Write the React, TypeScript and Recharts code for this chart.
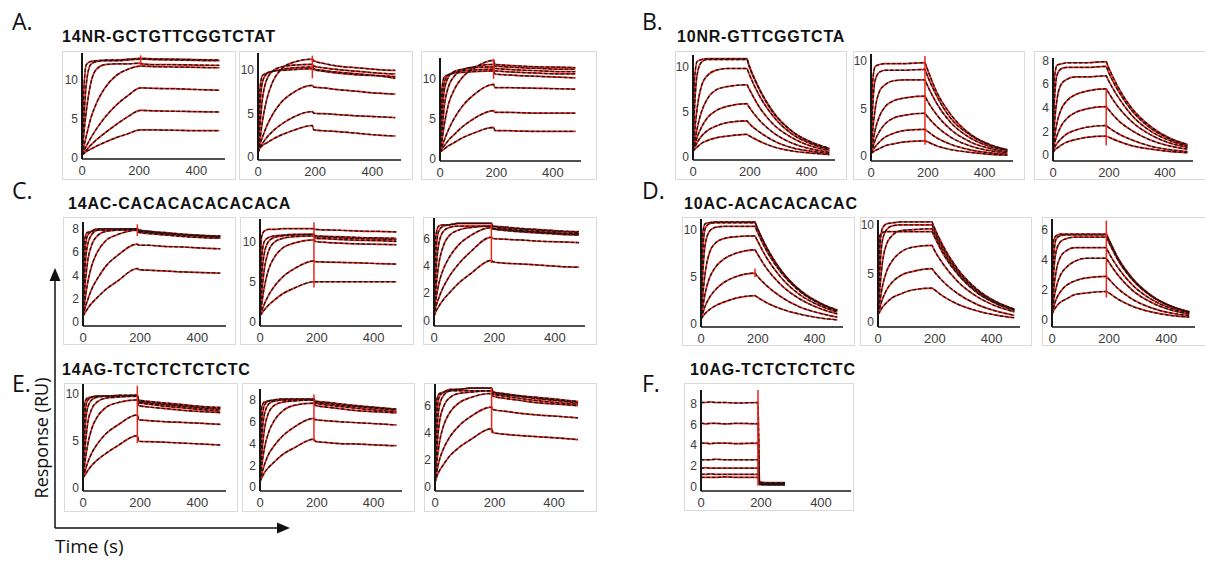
import React from 'react';
import { LineChart, Line, XAxis, YAxis, ReferenceLine } from 'recharts';

// sample times (s); A1 switches to dissociation a bit later than the rest
const TIME = [0, 5, 15, 30, 50, 80, 120, 190, 195, 230, 280, 350, 420, 480];
const TIME_A1 = [0, 5, 15, 30, 50, 80, 120, 160, 205, 210, 250, 320, 400, 480];
const X_TICKS = [0, 200, 400];

// A. 14NR-GCTGTTCGGTCTAT
const A1 = [
  [0.4, 7.5, 12.0, 12.4, 12.5, 12.6, 12.6, 12.7, 12.8, 12.8, 12.75, 12.7, 12.65, 12.6],
  [0.4, 4.0, 9.5, 12.0, 12.4, 12.5, 12.5, 12.6, 12.7, 12.7, 12.65, 12.6, 12.55, 12.5],
  [0.4, 2.5, 6.0, 9.5, 11.4, 12.0, 12.1, 12.1, 12.2, 12.1, 12.0, 12.0, 11.95, 11.9],
  [0.4, 1.2, 2.8, 5.0, 7.0, 9.0, 10.6, 11.4, 11.8, 11.8, 11.75, 11.7, 11.65, 11.6],
  [0.4, 0.8, 1.5, 2.5, 3.7, 5.2, 6.8, 8.0, 9.0, 9.0, 8.95, 8.9, 8.8, 8.7],
  [0.4, 0.6, 1.0, 1.6, 2.3, 3.2, 4.3, 5.3, 6.1, 6.1, 6.05, 6.0, 5.95, 5.9],
  [0.4, 0.5, 0.8, 1.1, 1.5, 2.0, 2.6, 3.1, 3.6, 3.6, 3.6, 3.55, 3.5, 3.5],
];
const A2 = [
  [0.5, 7.0, 9.3, 9.6, 9.8, 9.9, 10.0, 10.1, 10.0, 9.8, 9.6, 9.4, 9.3, 9.2],
  [0.5, 4.5, 8.5, 9.5, 9.8, 10.0, 10.2, 10.3, 10.1, 9.9, 9.7, 9.5, 9.3, 9.0],
  [0.5, 2.8, 6.5, 8.8, 9.8, 10.3, 10.5, 10.6, 10.4, 10.2, 10.0, 9.8, 9.6, 9.5],
  [0.5, 1.5, 4.0, 6.5, 8.5, 10.0, 10.8, 11.2, 11.0, 10.7, 10.4, 10.2, 10.0, 9.9],
  [0.5, 1.2, 2.2, 3.5, 4.8, 6.2, 7.3, 8.2, 8.0, 7.9, 7.7, 7.5, 7.3, 7.2],
  [0.5, 1.0, 1.5, 2.2, 2.9, 3.7, 4.5, 5.2, 5.0, 4.95, 4.85, 4.7, 4.6, 4.5],
  [0.5, 0.9, 1.3, 1.6, 2.0, 2.5, 3.0, 3.6, 3.1, 3.0, 2.9, 2.7, 2.5, 2.4],
];
const A3 = [
  [0.8, 8.0, 10.2, 10.5, 10.7, 10.8, 10.9, 11.0, 10.6, 10.5, 10.4, 10.3, 10.2, 10.1],
  [0.8, 6.0, 9.5, 10.5, 10.8, 11.0, 11.1, 11.2, 11.0, 10.9, 10.8, 10.7, 10.6, 10.6],
  [0.8, 4.0, 8.5, 10.2, 10.9, 11.2, 11.4, 11.5, 11.3, 11.2, 11.1, 11.0, 10.9, 10.9],
  [0.8, 2.5, 6.5, 9.0, 10.3, 11.1, 11.5, 11.8, 11.6, 11.5, 11.4, 11.3, 11.2, 11.2],
  [0.8, 1.8, 4.2, 6.8, 8.6, 10.2, 11.3, 12.3, 11.8, 11.7, 11.6, 11.5, 11.45, 11.4],
  [0.8, 1.3, 2.3, 3.6, 5.0, 6.6, 8.0, 9.3, 8.9, 8.9, 8.85, 8.8, 8.75, 8.7],
  [0.8, 1.1, 1.6, 2.3, 3.0, 4.0, 5.0, 6.0, 5.8, 5.8, 5.75, 5.7, 5.7, 5.7],
  [0.8, 0.95, 1.2, 1.6, 2.0, 2.6, 3.2, 3.9, 3.5, 3.5, 3.45, 3.4, 3.4, 3.4],
];

// B. 10NR-GTTCGGTCTA
const B1 = [
  [0.5, 8.5, 10.6, 10.8, 10.9, 10.9, 10.9, 10.9, 10.4, 7.8, 5.1, 2.8, 1.6, 0.95],
  [0.5, 5.0, 9.2, 10.5, 10.8, 10.8, 10.8, 10.8, 10.3, 7.7, 5.0, 2.8, 1.55, 0.9],
  [0.6, 2.5, 5.5, 7.9, 9.0, 9.6, 9.8, 9.8, 9.4, 7.0, 4.6, 2.5, 1.4, 0.8],
  [0.6, 1.5, 3.2, 5.0, 6.4, 7.4, 7.8, 8.0, 7.7, 5.7, 3.7, 2.1, 1.15, 0.7],
  [0.6, 1.2, 2.2, 3.3, 4.3, 5.1, 5.6, 5.9, 5.65, 4.2, 2.75, 1.5, 0.85, 0.5],
  [0.6, 1.0, 1.6, 2.3, 2.9, 3.4, 3.8, 4.0, 3.8, 2.85, 1.85, 1.0, 0.6, 0.35],
  [0.6, 0.8, 1.1, 1.5, 1.8, 2.1, 2.3, 2.5, 2.4, 1.8, 1.15, 0.65, 0.4, 0.25],
];
const B2 = [
  [0.3, 7.5, 9.4, 9.6, 9.7, 9.7, 9.7, 9.8, 9.4, 6.8, 4.4, 2.3, 1.2, 0.7],
  [0.3, 4.5, 8.0, 8.8, 9.0, 9.0, 9.0, 9.1, 8.7, 6.4, 4.0, 2.2, 1.15, 0.65],
  [0.3, 2.3, 5.0, 6.8, 7.5, 7.9, 8.0, 8.0, 7.65, 5.6, 3.55, 1.9, 1.0, 0.6],
  [0.3, 1.2, 2.8, 4.2, 5.2, 5.8, 6.1, 6.3, 6.0, 4.4, 2.8, 1.5, 0.8, 0.45],
  [0.3, 0.8, 1.7, 2.6, 3.4, 4.0, 4.3, 4.5, 4.3, 3.15, 2.0, 1.07, 0.57, 0.35],
  [0.3, 0.6, 1.0, 1.5, 2.0, 2.4, 2.7, 2.8, 2.7, 1.95, 1.25, 0.66, 0.35, 0.2],
  [0.3, 0.4, 0.6, 0.8, 1.1, 1.3, 1.5, 1.6, 1.55, 1.1, 0.7, 0.4, 0.2, 0.12],
];
const B3 = [
  [0.2, 6.5, 7.6, 7.7, 7.8, 7.8, 7.8, 7.9, 7.6, 5.85, 4.0, 2.4, 1.4, 0.9],
  [0.2, 4.5, 6.8, 7.3, 7.4, 7.4, 7.4, 7.5, 7.2, 5.55, 3.8, 2.25, 1.35, 0.85],
  [0.2, 2.5, 4.8, 6.0, 6.4, 6.6, 6.6, 6.7, 6.45, 5.0, 3.4, 2.0, 1.2, 0.75],
  [0.2, 1.4, 2.8, 3.9, 4.6, 5.1, 5.4, 5.6, 5.4, 4.15, 2.85, 1.7, 1.0, 0.65],
  [0.2, 0.9, 1.7, 2.5, 3.1, 3.6, 3.9, 4.1, 3.95, 3.0, 2.1, 1.25, 0.75, 0.5],
  [0.2, 0.6, 1.0, 1.4, 1.8, 2.1, 2.35, 2.5, 2.4, 1.85, 1.3, 0.75, 0.45, 0.3],
  [0.2, 0.4, 0.6, 0.85, 1.1, 1.3, 1.5, 1.6, 1.55, 1.2, 0.8, 0.5, 0.3, 0.2],
];

// C. 14AC-CACACACACACACA
const C1 = [
  [0.5, 7.0, 7.7, 7.8, 7.9, 7.9, 7.9, 7.9, 7.8, 7.7, 7.6, 7.5, 7.4, 7.35],
  [0.5, 5.5, 7.4, 7.8, 8.0, 8.0, 8.0, 8.0, 7.9, 7.8, 7.7, 7.55, 7.45, 7.4],
  [0.5, 3.8, 6.5, 7.5, 7.9, 8.0, 8.0, 8.0, 7.9, 7.8, 7.65, 7.5, 7.4, 7.3],
  [0.5, 2.5, 5.0, 6.6, 7.4, 7.8, 7.9, 8.0, 7.8, 7.7, 7.6, 7.45, 7.35, 7.25],
  [0.5, 1.5, 3.2, 4.8, 6.0, 7.0, 7.5, 7.9, 7.7, 7.6, 7.5, 7.35, 7.25, 7.2],
  [0.5, 1.0, 1.8, 2.8, 3.7, 4.8, 5.7, 6.7, 6.6, 6.6, 6.5, 6.45, 6.35, 6.3],
  [0.5, 0.7, 1.1, 1.6, 2.1, 2.8, 3.5, 4.6, 4.5, 4.45, 4.4, 4.3, 4.25, 4.2],
];
const C2 = [
  [0.8, 10.5, 11.3, 11.5, 11.5, 11.6, 11.6, 11.6, 11.5, 11.45, 11.4, 11.3, 11.25, 11.2],
  [0.8, 7.5, 10.0, 10.5, 10.7, 10.8, 10.9, 10.9, 10.7, 10.65, 10.6, 10.5, 10.45, 10.4],
  [0.8, 5.0, 8.5, 10.0, 10.5, 10.7, 10.8, 10.9, 10.6, 10.55, 10.45, 10.35, 10.3, 10.2],
  [0.8, 3.2, 6.5, 8.8, 9.9, 10.4, 10.6, 10.7, 10.4, 10.35, 10.25, 10.15, 10.1, 10.0],
  [0.8, 2.0, 4.3, 6.5, 8.0, 9.2, 9.8, 10.2, 10.0, 9.9, 9.8, 9.7, 9.65, 9.6],
  [0.8, 1.3, 2.2, 3.3, 4.4, 5.6, 6.6, 7.6, 7.5, 7.45, 7.4, 7.35, 7.25, 7.2],
  [0.8, 1.0, 1.5, 2.1, 2.7, 3.5, 4.2, 5.0, 5.0, 5.0, 5.0, 5.0, 5.0, 5.0],
];
const C3 = [
  [0.3, 6.0, 6.9, 7.0, 7.0, 7.1, 7.1, 7.1, 6.9, 6.85, 6.75, 6.65, 6.55, 6.5],
  [0.3, 4.5, 6.5, 6.9, 7.0, 7.1, 7.1, 7.1, 6.9, 6.8, 6.7, 6.6, 6.5, 6.45],
  [0.3, 3.0, 5.5, 6.5, 6.8, 6.9, 6.9, 6.9, 6.75, 6.7, 6.6, 6.5, 6.4, 6.35],
  [0.3, 2.0, 4.0, 5.4, 6.2, 6.6, 6.8, 6.9, 6.7, 6.65, 6.55, 6.45, 6.35, 6.3],
  [0.3, 1.3, 2.6, 3.7, 4.6, 5.5, 6.2, 6.8, 6.7, 6.6, 6.5, 6.4, 6.3, 6.25],
  [0.3, 0.9, 1.6, 2.4, 3.2, 4.1, 5.0, 6.1, 6.0, 5.95, 5.9, 5.8, 5.75, 5.7],
  [0.3, 0.6, 1.0, 1.5, 2.0, 2.7, 3.4, 4.4, 4.3, 4.2, 4.15, 4.05, 3.95, 3.9],
];

// D. 10AC-ACACACACAC
const D1 = [
  [0.5, 9.5, 10.7, 10.8, 10.9, 10.9, 10.9, 10.9, 10.5, 8.25, 5.8, 3.55, 2.2, 1.45],
  [0.5, 7.0, 10.2, 10.7, 10.8, 10.8, 10.8, 10.8, 10.45, 8.15, 5.75, 3.5, 2.15, 1.4],
  [0.5, 4.5, 8.5, 9.9, 10.3, 10.4, 10.4, 10.4, 10.05, 7.85, 5.55, 3.4, 2.1, 1.35],
  [0.5, 2.5, 5.5, 7.6, 8.6, 9.1, 9.3, 9.4, 9.1, 7.1, 5.0, 3.05, 1.9, 1.25],
  [0.5, 1.5, 3.3, 4.9, 6.0, 6.9, 7.5, 7.9, 7.65, 5.95, 4.2, 2.6, 1.6, 1.05],
  [0.5, 1.0, 1.9, 2.8, 3.6, 4.4, 5.0, 5.4, 5.2, 4.1, 2.9, 1.75, 1.1, 0.7],
  [0.5, 0.7, 1.1, 1.5, 1.9, 2.3, 2.7, 3.0, 2.9, 2.25, 1.6, 1.0, 0.6, 0.4],
];
const D2 = [
  [0.8, 8.8, 9.2, 9.3, 9.3, 9.3, 9.3, 9.3, 9.0, 7.0, 4.95, 3.0, 1.85, 1.2],
  [0.8, 7.0, 9.6, 10.1, 10.2, 10.3, 10.3, 10.3, 9.95, 7.8, 5.5, 3.35, 2.05, 1.35],
  [0.8, 4.5, 8.3, 9.5, 9.9, 10.0, 10.0, 10.0, 9.65, 7.55, 5.3, 3.25, 2.0, 1.3],
  [0.8, 2.8, 6.0, 8.0, 8.9, 9.4, 9.5, 9.6, 9.3, 7.25, 5.1, 3.1, 1.9, 1.25],
  [0.8, 1.8, 3.6, 5.2, 6.3, 7.2, 7.7, 7.9, 7.6, 5.95, 4.2, 2.6, 1.6, 1.05],
  [0.8, 1.3, 2.3, 3.3, 4.1, 4.8, 5.2, 5.5, 5.3, 4.15, 2.95, 1.8, 1.1, 0.7],
  [0.8, 1.0, 1.5, 2.0, 2.5, 2.9, 3.3, 3.5, 3.4, 2.65, 1.85, 1.15, 0.7, 0.45],
];
const D3 = [
  [0.4, 5.2, 5.6, 5.7, 5.7, 5.7, 5.7, 5.7, 5.5, 4.15, 2.8, 1.6, 0.9, 0.56],
  [0.4, 4.0, 5.4, 5.6, 5.65, 5.65, 5.65, 5.65, 5.45, 4.1, 2.75, 1.58, 0.9, 0.55],
  [0.4, 2.8, 4.6, 5.2, 5.4, 5.5, 5.5, 5.5, 5.3, 4.0, 2.7, 1.55, 0.88, 0.54],
  [0.4, 1.8, 3.3, 4.2, 4.6, 4.8, 4.8, 4.8, 4.6, 3.5, 2.35, 1.35, 0.76, 0.47],
  [0.4, 1.2, 2.2, 3.0, 3.5, 3.9, 4.1, 4.1, 3.95, 3.0, 2.0, 1.15, 0.65, 0.4],
  [0.4, 0.8, 1.4, 1.9, 2.3, 2.6, 2.8, 2.9, 2.8, 2.1, 1.4, 0.8, 0.46, 0.3],
  [0.4, 0.6, 0.9, 1.2, 1.4, 1.7, 1.8, 1.9, 1.85, 1.4, 0.93, 0.53, 0.3, 0.2],
];

// E. 14AG-TCTCTCTCTCTC
const E1 = [
  [1.0, 8.8, 9.5, 9.6, 9.7, 9.7, 9.7, 9.8, 9.3, 9.15, 9.0, 8.8, 8.6, 8.5],
  [1.0, 7.0, 9.2, 9.6, 9.7, 9.7, 9.8, 9.8, 9.2, 9.05, 8.9, 8.7, 8.5, 8.4],
  [1.0, 5.0, 8.3, 9.3, 9.6, 9.7, 9.7, 9.7, 9.1, 8.95, 8.8, 8.6, 8.4, 8.3],
  [1.0, 3.3, 6.5, 8.3, 9.1, 9.5, 9.6, 9.7, 9.0, 8.85, 8.65, 8.45, 8.25, 8.1],
  [1.0, 2.2, 4.3, 6.2, 7.5, 8.5, 9.0, 9.3, 8.7, 8.55, 8.4, 8.2, 8.05, 7.95],
  [1.0, 1.5, 2.5, 3.6, 4.6, 5.7, 6.6, 7.7, 7.2, 7.1, 7.0, 6.9, 6.8, 6.7],
  [1.0, 1.2, 1.7, 2.3, 2.9, 3.6, 4.4, 5.5, 4.9, 4.85, 4.8, 4.7, 4.6, 4.5],
];
const E2 = [
  [0.5, 7.2, 7.8, 7.9, 7.9, 8.0, 8.0, 8.0, 7.8, 7.7, 7.55, 7.4, 7.25, 7.1],
  [0.5, 5.5, 7.5, 7.9, 8.0, 8.1, 8.1, 8.1, 7.9, 7.8, 7.65, 7.45, 7.3, 7.15],
  [0.5, 3.9, 6.6, 7.6, 7.9, 8.0, 8.0, 8.0, 7.8, 7.7, 7.5, 7.35, 7.2, 7.05],
  [0.5, 2.6, 5.2, 6.8, 7.5, 7.8, 7.9, 8.0, 7.7, 7.55, 7.4, 7.2, 7.05, 6.9],
  [0.5, 1.7, 3.5, 5.0, 6.1, 7.0, 7.5, 7.7, 7.5, 7.35, 7.2, 7.0, 6.9, 6.8],
  [0.5, 1.1, 2.0, 3.0, 3.8, 4.7, 5.5, 6.3, 6.2, 6.1, 6.0, 5.9, 5.8, 5.7],
  [0.5, 0.8, 1.3, 1.8, 2.3, 3.0, 3.6, 4.4, 4.2, 4.1, 4.0, 3.95, 3.85, 3.8],
];
const E3 = [
  [0.3, 6.3, 6.9, 7.0, 7.1, 7.1, 7.1, 7.1, 6.9, 6.8, 6.7, 6.55, 6.4, 6.3],
  [0.3, 5.0, 6.7, 7.0, 7.2, 7.2, 7.3, 7.3, 7.0, 6.9, 6.75, 6.6, 6.45, 6.3],
  [0.3, 3.5, 6.0, 6.8, 7.1, 7.2, 7.3, 7.3, 7.0, 6.85, 6.7, 6.5, 6.35, 6.2],
  [0.3, 2.4, 4.8, 6.0, 6.6, 6.9, 7.0, 7.1, 6.85, 6.7, 6.55, 6.35, 6.2, 6.1],
  [0.3, 1.6, 3.3, 4.6, 5.5, 6.2, 6.6, 6.9, 6.7, 6.55, 6.4, 6.2, 6.1, 6.0],
  [0.3, 1.0, 2.0, 2.9, 3.7, 4.5, 5.2, 5.9, 5.7, 5.6, 5.45, 5.3, 5.2, 5.1],
  [0.3, 0.7, 1.2, 1.7, 2.3, 2.9, 3.5, 4.3, 4.0, 3.9, 3.8, 3.7, 3.6, 3.5],
];

// F. 10AG-TCTCTCTCTC (recording stops near 280 s)
const F1 = [
  [8.1, 8.1, 8.1, 8.15, 8.1, 8.1, 8.05, 8.1, 0.45, 0.4, 0.4, null, null, null],
  [6.1, 6.1, 6.05, 6.1, 6.1, 6.05, 6.1, 6.05, 0.4, 0.35, 0.35, null, null, null],
  [4.2, 4.2, 4.2, 4.15, 4.2, 4.2, 4.15, 4.2, 0.35, 0.35, 0.3, null, null, null],
  [2.65, 2.6, 2.6, 2.6, 2.65, 2.6, 2.6, 2.6, 0.3, 0.3, 0.3, null, null, null],
  [1.8, 1.8, 1.85, 1.8, 1.8, 1.8, 1.8, 1.8, 0.3, 0.25, 0.25, null, null, null],
  [1.25, 1.2, 1.2, 1.25, 1.2, 1.2, 1.2, 1.2, 0.25, 0.2, 0.2, null, null, null],
  [0.9, 0.9, 0.9, 0.9, 0.9, 0.95, 0.9, 0.9, 0.2, 0.2, 0.2, null, null, null],
];

// injection artefact at the start of dissociation: [time, low, high]
const SPIKES = {
  A1: [205, 11.9, 13.2], A2: [190, 9.0, 11.6], A3: [190, 10.0, 12.5],
  B2: [190, 1.2, 10.5], B3: [190, 0.8, 5.6],
  C1: [190, 7.4, 8.4], C2: [190, 4.3, 12.4], C3: [190, 4.2, 7.1],
  D1: [190, 5.0, 5.9], D3: [190, 1.5, 6.6],
  E1: [190, 4.7, 10.8], E2: [190, 4.2, 8.5], E3: [190, 4.0, 7.3],
  F1: [190, 0.1, 9.3],
};

const TICKS_5 = [0, 5, 10];
const TICKS_2 = [0, 2, 4, 6, 8];
const TICKS_2S = [0, 2, 4, 6];

// frame = [left, top, width, height]; axis = [yAxisX, xAxisY, yAxisTop, xAxisEnd]
const panels = [
  { id: 'A1', time: TIME_A1, curves: A1, frame: [62, 51, 174, 129], axis: [82, 159, 53, 225], dom: [-0.15, 13.5], ticks: TICKS_5 },
  { id: 'A2', time: TIME, curves: A2, frame: [239, 51, 174, 129], axis: [258, 160, 53, 401], dom: [-0.35, 11.9], ticks: TICKS_5 },
  { id: 'A3', time: TIME, curves: A3, frame: [421, 51, 176, 129], axis: [440, 161, 58, 581], dom: [-0.3, 12.6], ticks: TICKS_5 },
  { id: 'B1', time: TIME, curves: B1, frame: [675, 51, 172, 129], axis: [693, 160, 55, 835], dom: [-0.35, 11.3], ticks: TICKS_5 },
  { id: 'B2', time: TIME, curves: B2, frame: [853, 51, 172, 129], axis: [871, 161, 54, 1013], dom: [-0.5, 10.7], ticks: TICKS_5 },
  { id: 'B3', time: TIME, curves: B3, frame: [1034, 51, 172, 129], axis: [1053, 161, 58, 1193], dom: [-0.5, 8.2], ticks: TICKS_2 },
  { id: 'C1', time: TIME, curves: C1, frame: [63, 217, 173, 128], axis: [83, 326, 222, 226], dom: [-0.35, 8.6], ticks: TICKS_2 },
  { id: 'C2', time: TIME, curves: C2, frame: [240, 217, 174, 128], axis: [260, 326, 219, 402], dom: [-0.5, 12.8], ticks: TICKS_5 },
  { id: 'C3', time: TIME, curves: C3, frame: [423, 217, 174, 128], axis: [434, 326, 218, 585], dom: [-0.4, 7.5], ticks: TICKS_2S },
  { id: 'D1', time: TIME, curves: D1, frame: [682, 217, 173, 129], axis: [701, 327, 219, 843], dom: [-0.36, 11.2], ticks: TICKS_5 },
  { id: 'D2', time: TIME, curves: D2, frame: [860, 217, 172, 129], axis: [878, 327, 220, 1020], dom: [-0.5, 10.5], ticks: TICKS_5 },
  { id: 'D3', time: TIME, curves: D3, frame: [1042, 217, 172, 129], axis: [1052, 327, 219, 1195], dom: [-0.45, 6.7], ticks: TICKS_2S },
  { id: 'E1', time: TIME, curves: E1, frame: [64, 383, 174, 129], axis: [83, 491, 384, 226], dom: [-0.4, 11], ticks: TICKS_5 },
  { id: 'E2', time: TIME, curves: E2, frame: [242, 383, 173, 129], axis: [260, 491, 389, 402], dom: [-0.35, 9], ticks: TICKS_2 },
  { id: 'E3', time: TIME, curves: E3, frame: [424, 383, 173, 129], axis: [435, 491, 384, 584], dom: [-0.3, 7.6], ticks: TICKS_2S },
  { id: 'F1', time: TIME, curves: F1, frame: [684, 383, 170, 128], axis: [701, 491, 390, 851], dom: [-0.4, 9.3], ticks: TICKS_2 },
];

const labels = [
  { letter: 'A.', lx: 12, title: '14NR-GCTGTTCGGTCTAT', tx: 62, ly: 30, ty: 42 },
  { letter: 'B.', lx: 642, title: '10NR-GTTCGGTCTA', tx: 677, ly: 30, ty: 42 },
  { letter: 'C.', lx: 12, title: '14AC-CACACACACACACA', tx: 68, ly: 199, ty: 209 },
  { letter: 'D.', lx: 642, title: '10AC-ACACACACAC', tx: 684, ly: 199, ty: 209 },
  { letter: 'E.', lx: 12, title: '14AG-TCTCTCTCTCTC', tx: 62, ly: 392, ty: 375 },
  { letter: 'F.', lx: 642, title: '10AG-TCTCTCTCTC', tx: 690, ly: 392, ty: 375 },
];

const RED = '#e8261c';
const INK = '#161616';
const Y_TICK_FONT = { fontSize: 12, fill: '#3c3c3c', fontFamily: 'Liberation Sans, Arial, sans-serif' };
const X_TICK_FONT = { fontSize: 13, fill: '#3c3c3c', fontFamily: 'Liberation Sans, Arial, sans-serif' };

function Panel({ p }) {
  const [fx, fy, fw, fh] = p.frame;
  const [ax, ay, atop, aend] = p.axis;
  const w = fw - 2;
  const h = fh - 2;
  const ox = fx + 1;
  const oy = fy + 1;
  const rows = p.time.map((t, i) => {
    const row = { t };
    p.curves.forEach((c, k) => {
      row['c' + k] = c[i];
    });
    return row;
  });
  const spike = SPIKES[p.id];

  return (
    <div
      style={{
        position: 'absolute',
        left: fx,
        top: fy,
        width: fw,
        height: fh,
        border: '1px solid #dadada',
        boxSizing: 'border-box',
        background: '#fff',
      }}
    >
      <LineChart
        width={w}
        height={h}
        data={rows}
        margin={{ top: atop - oy, right: ox + w - aend, bottom: 0, left: 0 }}
      >
        <XAxis
          type="number"
          dataKey="t"
          domain={[0, 500]}
          ticks={X_TICKS}
          interval={0}
          height={oy + h - ay}
          axisLine={{ stroke: INK, strokeWidth: 1.6 }}
          tickLine={false}
          tickSize={4}
          tickMargin={3}
          tick={X_TICK_FONT}
          allowDataOverflow
        />
        <YAxis
          type="number"
          domain={p.dom}
          ticks={p.ticks}
          interval={0}
          width={ax - ox}
          axisLine={{ stroke: INK, strokeWidth: 2 }}
          tickLine={false}
          tickSize={2}
          tickMargin={2}
          tick={Y_TICK_FONT}
          allowDataOverflow
        />
        {p.curves.map((_, k) => (
          <Line
            key={'r' + k}
            type="monotone"
            dataKey={'c' + k}
            stroke={RED}
            strokeWidth={1.7}
            dot={false}
            isAnimationActive={false}
          />
        ))}
        {p.curves.map((_, k) => (
          <Line
            key={'k' + k}
            type="monotone"
            dataKey={'c' + k}
            stroke={INK}
            strokeWidth={1.3}
            strokeDasharray="3.5 2"
            dot={false}
            isAnimationActive={false}
          />
        ))}
        {spike && (
          <ReferenceLine
            segment={[
              { x: spike[0], y: spike[1] },
              { x: spike[0], y: spike[2] },
            ]}
            stroke={RED}
            strokeWidth={1.5}
          />
        )}
      </LineChart>
    </div>
  );
}

export default function App() {
  return (
    <div
      style={{
        position: 'absolute',
        left: 0,
        top: 0,
        width: 1205,
        height: 561,
        overflow: 'hidden',
        background: '#fff',
      }}
    >
      <style>{'.recharts-surface { overflow: visible; }'}</style>
      {panels.map((p) => (
        <Panel key={p.id} p={p} />
      ))}
      <svg width={1205} height={561} style={{ position: 'absolute', left: 0, top: 0, pointerEvents: 'none' }}>
        {labels.map((l) => (
          <g key={l.letter}>
            <text x={l.lx} y={l.ly} fontSize={23} fontFamily="Open Sans, sans-serif" fill="#111">
              {l.letter}
            </text>
            <text x={l.tx} y={l.ty} fontSize={16} fontWeight="bold" fontFamily="Liberation Sans, Arial, sans-serif" fill="#111" letterSpacing={0.8}>
              {l.title}
            </text>
          </g>
        ))}
        <line x1={55} y1={528} x2={55} y2={280} stroke="#111" strokeWidth={1.5} />
        <polygon points="55,268 49.5,281 60.5,281" fill="#111" />
        <line x1={55} y1={528} x2={278} y2={528} stroke="#111" strokeWidth={1.5} />
        <polygon points="290,528 277,522.5 277,533.5" fill="#111" />
        <text
          x={0}
          y={0}
          transform="translate(48 438) rotate(-90)"
          textAnchor="middle"
          fontSize={18}
          fontFamily="Open Sans, sans-serif"
          fill="#111"
        >
          Response (RU)
        </text>
        <text x={55} y={553} fontSize={19} fontFamily="Open Sans, sans-serif" fill="#111">
          Time (s)
        </text>
      </svg>
    </div>
  );
}
